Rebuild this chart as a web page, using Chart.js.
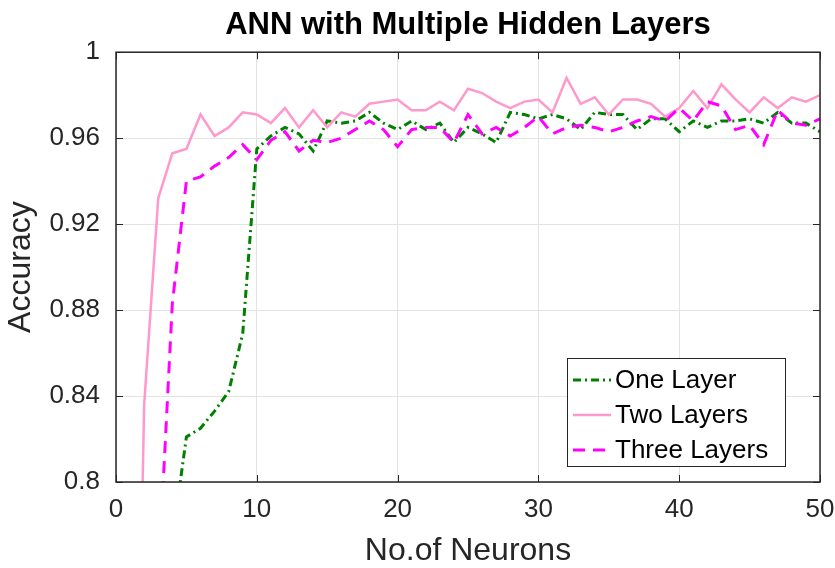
<!DOCTYPE html>
<html>
<head>
<meta charset="utf-8">
<title>ANN with Multiple Hidden Layers</title>
<script src="https://cdn.jsdelivr.net/npm/chart.js@4/dist/chart.umd.min.js"></script>
<style>
  html, body { margin: 0; padding: 0; background: #fff; }
  canvas { display: block; }
</style>
</head>
<body>
<canvas id="accChart" width="835" height="568"></canvas>
<script>
// neurons in the hidden layer(s)
const neurons = [1, 2, 3, 4, 5, 6, 7, 8, 9, 10, 11, 12, 13, 14, 15, 16, 17, 18, 19, 20,
  21, 22, 23, 24, 25, 26, 27, 28, 29, 30, 31, 32, 33, 34, 35, 36, 37, 38, 39, 40,
  41, 42, 43, 44, 45, 46, 47, 48, 49, 50];

const oneLayer = [0.62, 0.68, 0.73, 0.773, 0.821, 0.825, 0.833, 0.842, 0.869, 0.955,
  0.961, 0.965, 0.962, 0.954, 0.968, 0.967, 0.968, 0.972, 0.967, 0.964,
  0.968, 0.964, 0.967, 0.958, 0.965, 0.962, 0.958, 0.972, 0.971, 0.969,
  0.971, 0.969, 0.964, 0.972, 0.971, 0.971, 0.964, 0.969, 0.969, 0.963,
  0.968, 0.965, 0.968, 0.968, 0.969, 0.967, 0.972, 0.967, 0.967, 0.963];

const twoLayers = [0.50, 0.836, 0.932, 0.953, 0.955, 0.971, 0.961, 0.965, 0.972, 0.971,
  0.967, 0.974, 0.965, 0.973, 0.965, 0.972, 0.970, 0.976, 0.977, 0.978,
  0.973, 0.973, 0.977, 0.973, 0.983, 0.981, 0.977, 0.974, 0.977, 0.978,
  0.972, 0.988, 0.976, 0.979, 0.971, 0.978, 0.978, 0.976, 0.970, 0.974,
  0.982, 0.974, 0.985, 0.978, 0.972, 0.979, 0.974, 0.979, 0.977, 0.980];

const threeLayers = [0.60, 0.68, 0.754, 0.883, 0.940, 0.942, 0.947, 0.951, 0.957, 0.950,
  0.959, 0.963, 0.954, 0.959, 0.958, 0.960, 0.964, 0.968, 0.964, 0.956,
  0.964, 0.965, 0.965, 0.958, 0.971, 0.962, 0.965, 0.961, 0.965, 0.970,
  0.962, 0.965, 0.966, 0.965, 0.963, 0.965, 0.968, 0.970, 0.968, 0.974,
  0.968, 0.977, 0.975, 0.964, 0.966, 0.957, 0.973, 0.967, 0.966, 0.969];

const seriesNames = ['One Layer', 'Two Layers', 'Three Layers'];
const xTicks = [0, 10, 20, 30, 40, 50];
const yTicks = [0.8, 0.84, 0.88, 0.92, 0.96, 1];

const FONT = '"Liberation Sans", Arial, Helvetica, sans-serif';
const AXIS_COLOR = '#262626';

function points(values) {
  return neurons.map((n, i) => ({ x: n, y: values[i] }));
}

// box around the axes with inward tick marks, like a MATLAB figure
const axesBox = {
  id: 'axesBox',
  afterDatasetsDraw(chart) {
    const { ctx, chartArea: a, scales: { x, y } } = chart;
    ctx.save();
    ctx.strokeStyle = AXIS_COLOR;
    ctx.lineWidth = 1.5;
    ctx.strokeRect(a.left, a.top, a.right - a.left, a.bottom - a.top);
    ctx.lineWidth = 1;
    ctx.beginPath();
    xTicks.forEach(v => {
      const px = Math.round(x.getPixelForValue(v)) + 0.5;
      ctx.moveTo(px, a.bottom); ctx.lineTo(px, a.bottom - 7);
      ctx.moveTo(px, a.top); ctx.lineTo(px, a.top + 7);
    });
    yTicks.forEach(v => {
      const py = Math.round(y.getPixelForValue(v)) + 0.5;
      ctx.moveTo(a.left, py); ctx.lineTo(a.left + 7, py);
      ctx.moveTo(a.right, py); ctx.lineTo(a.right - 7, py);
    });
    ctx.stroke();
    ctx.restore();
  }
};

// legend box drawn inside the lower right of the plot
const innerLegend = {
  id: 'innerLegend',
  afterDraw(chart) {
    const { ctx, chartArea: a } = chart;
    const w = 218, h = 108;
    const left = a.right - 35 - w, top = a.bottom - 16 - h;
    ctx.save();
    ctx.fillStyle = '#fff';
    ctx.fillRect(left, top, w, h);
    ctx.strokeStyle = AXIS_COLOR;
    ctx.lineWidth = 1;
    ctx.strokeRect(left + 0.5, top + 0.5, w, h);
    ctx.font = '26px ' + FONT;
    ctx.textBaseline = 'middle';
    chart.data.datasets.forEach((ds, i) => {
      const cy = top + 22 + i * 35;
      ctx.strokeStyle = ds.borderColor;
      ctx.lineWidth = ds.borderWidth;
      ctx.setLineDash(ds.borderDash || []);
      ctx.beginPath();
      ctx.moveTo(left + 6, cy);
      ctx.lineTo(left + 44, cy);
      ctx.stroke();
      ctx.setLineDash([]);
      ctx.fillStyle = '#000';
      ctx.fillText(ds.label, left + 48, cy + 1);
    });
    ctx.restore();
  }
};

new Chart(document.getElementById('accChart').getContext('2d'), {
  type: 'line',
  data: {
    datasets: [{
      label: seriesNames[0],
      data: points(oneLayer),
      borderColor: '#008000',
      borderWidth: 3,
      borderDash: [8, 4, 2, 4],
      order: 3
    }, {
      label: seriesNames[1],
      data: points(twoLayers),
      borderColor: '#ff99cc',
      borderWidth: 2.5,
      order: 2
    }, {
      label: seriesNames[2],
      data: points(threeLayers),
      borderColor: '#ff00ff',
      borderWidth: 3,
      borderDash: [12, 8],
      order: 1
    }]
  },
  options: {
    responsive: false,
    animation: false,
    events: [],
    layout: { padding: { left: 0, right: 15, top: 0, bottom: 0 } },
    elements: {
      point: { radius: 0 },
      line: { tension: 0, fill: false }
    },
    plugins: {
      legend: { display: false },
      tooltip: { enabled: false },
      title: {
        display: true,
        fullSize: false,
        text: 'ANN with Multiple Hidden Layers',
        color: '#000',
        font: { family: FONT, size: 31, weight: 'bold', lineHeight: 1.2 },
        padding: { top: 7, bottom: 8 }
      }
    },
    scales: {
      x: {
        type: 'linear',
        min: 0,
        max: 50,
        afterBuildTicks: s => { s.ticks = xTicks.map(v => ({ value: v })); },
        afterFit: s => { s.height = 86; s.paddingLeft = 0; s.paddingRight = 0; },
        grid: { color: '#e3e3e3', lineWidth: 1, drawTicks: false },
        border: { display: false },
        ticks: {
          color: AXIS_COLOR,
          padding: 12,
          maxRotation: 0,
          font: { family: FONT, size: 26 }
        },
        title: {
          display: true,
          text: 'No.of Neurons',
          color: AXIS_COLOR,
          font: { family: FONT, size: 32, lineHeight: 1 },
          padding: { top: 0, bottom: 1 }
        }
      },
      y: {
        min: 0.8,
        max: 1,
        afterBuildTicks: s => { s.ticks = yTicks.map(v => ({ value: v })); },
        afterFit: s => { s.width = 116; },
        grid: { color: '#e3e3e3', lineWidth: 1, drawTicks: false },
        border: { display: false },
        ticks: {
          color: AXIS_COLOR,
          padding: 16,
          font: { family: FONT, size: 26 },
          callback: v => String(Math.round(v * 100) / 100)
        },
        title: {
          display: true,
          text: 'Accuracy',
          color: AXIS_COLOR,
          font: { family: FONT, size: 32, lineHeight: 1 },
          padding: { top: 5, bottom: 0 }
        }
      }
    }
  },
  plugins: [axesBox, innerLegend]
});
</script>
</body>
</html>
